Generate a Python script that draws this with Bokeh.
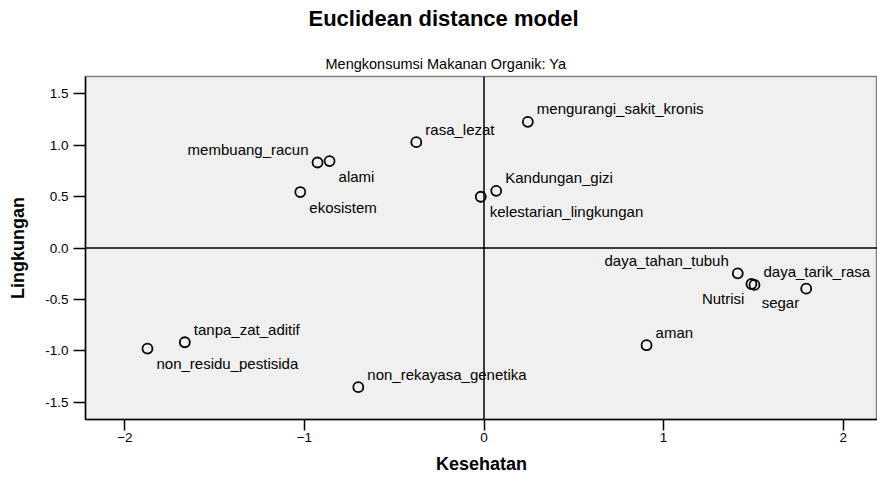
from bokeh.plotting import figure
from bokeh.models import (Span, Title, FixedTicker, ColumnDataSource,
                          Range1d, NumeralTickFormatter)
from bokeh.core.properties import value
from bokeh.embed import file_html
from bokeh.resources import INLINE

# ---- data ----
names = ["mengurangi_sakit_kronis", "rasa_lezat", "membuang_racun", "alami",
         "ekosistem", "Kandungan_gizi", "kelestarian_lingkungan",
         "daya_tahan_tubuh", "Nutrisi", "daya_tarik_rasa", "segar", "aman",
         "tanpa_zat_aditif", "non_residu_pestisida", "non_rekayasa_genetika"]
kesehatan = [0.244, -0.377, -0.927, -0.860, -1.023, 0.068, -0.018,
             1.413, 1.489, 1.506, 1.794, 0.905, -1.666, -1.874, -0.700]
lingkungan = [1.226, 1.029, 0.831, 0.845, 0.544, 0.556, 0.498,
              -0.246, -0.350, -0.359, -0.395, -0.945, -0.916, -0.978, -1.353]
placement = ["ur", "ur", "ul", "lr", "lr", "ur", "lr",
             "ul", "ll", "ur", "ll", "ur", "ur", "lr", "ur"]
x_ticks = [-2, -1, 0, 1, 2]
y_ticks = [-1.5, -1.0, -0.5, 0.0, 0.5, 1.0, 1.5]
title_text = "Euclidean distance model"
subtitle_text = "Mengkonsumsi Makanan Organik: Ya"
x_label = "Kesehatan"
y_label = "Lingkungan"

FONT = "Liberation Sans"

# label placement styles
align_map = {"ur": "left", "lr": "left", "ul": "right", "ll": "right"}
dx_map = {"ur": 9, "lr": 9, "ul": -9, "ll": -7}
dy_map = {"ur": -13, "lr": 15, "ul": -13, "ll": 14}

src = ColumnDataSource(dict(
    x=kesehatan, y=lingkungan, name=names,
    align=[align_map[k] for k in placement],
    dx=[dx_map[k] for k in placement],
    dy=[dy_map[k] for k in placement],
))

p = figure(width=877, height=477,
           x_range=Range1d(-2.219, 2.191), y_range=Range1d(-1.667, 1.667),
           output_backend="svg", toolbar_location=None,
           min_border_left=85, min_border_right=0,
           min_border_top=76, min_border_bottom=58,
           background_fill_color="#f0f0f0", border_fill_color="white",
           outline_line_color="#808080", outline_line_width=1.5)
p.grid.visible = False

# zero lines
p.add_layout(Span(location=0, dimension="height", line_color="black", line_width=1.5))
p.add_layout(Span(location=0, dimension="width", line_color="black", line_width=1.5))

p.scatter("x", "y", source=src, marker="circle", size=10, fill_color=None,
          line_color="black", line_width=1.8)
p.text("x", "y", text="name", source=src, text_align="align",
       text_baseline="middle", x_offset="dx", y_offset="dy",
       text_font=value(FONT), text_font_size="15px", text_color="black")

# axes
xa = p.xaxis[0]
xa.ticker = FixedTicker(ticks=x_ticks)
xa.axis_label = x_label
ya = p.yaxis[0]
ya.ticker = FixedTicker(ticks=y_ticks)
ya.formatter = NumeralTickFormatter(format="0.0")
ya.axis_label = y_label
for ax in (xa, ya):
    ax.major_tick_in = 0
    ax.minor_tick_in = 0
    ax.minor_tick_out = 0
    ax.axis_line_width = 1.5
    ax.axis_line_color = "black"
    ax.major_tick_line_width = 1.5
    ax.major_tick_line_color = "black"
    ax.major_label_text_font = FONT
    ax.major_label_text_font_size = "13.5px"
    ax.major_label_text_color = "black"
    ax.axis_label_text_font = FONT
    ax.axis_label_text_font_style = "bold"
    ax.axis_label_text_font_size = "18px"
    ax.axis_label_text_color = "black"
xa.major_tick_out = 11
xa.major_label_standoff = 2
xa.axis_label_standoff = 9
ya.major_tick_out = 12
ya.major_label_standoff = 5
ya.axis_label_standoff = 14

# titles (subtitle nearest the frame, a thin spacer, main title on top)
p.add_layout(Title(text=subtitle_text, align="left", offset=240,
                   standoff=9, text_font=FONT, text_font_size="14.5px",
                   text_font_style="normal", text_color="black"), "above")
p.add_layout(Title(text=" ", align="left", standoff=13,
                   text_font=FONT, text_font_size="2px"), "above")
p.add_layout(Title(text=title_text, align="left", offset=223,
                   standoff=4, text_font=FONT, text_font_size="22px",
                   text_font_style="bold", text_color="black"), "above")

open("out.html", "w").write(file_html(p, INLINE))
